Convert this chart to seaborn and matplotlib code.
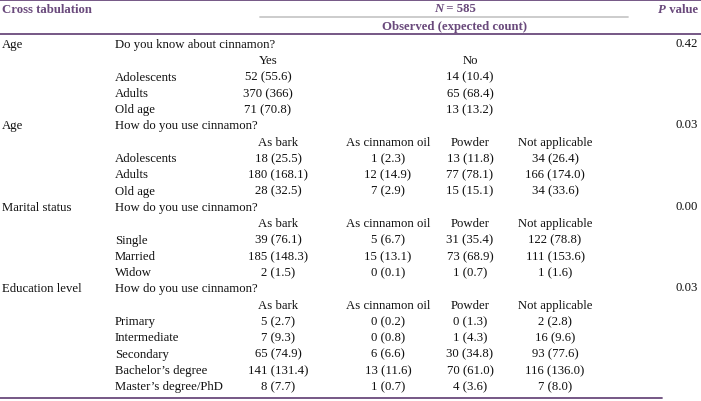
import matplotlib
matplotlib.use('Agg')
import matplotlib.pyplot as plt
import seaborn as sns

# table content
group_names = ['Age', 'Age', 'Marital status', 'Education level']
questions = ['Do you know about cinnamon?', 'How do you use cinnamon?',
             'How do you use cinnamon?', 'How do you use cinnamon?']
p_values = ['0.42', '0.03', '0.00', '0.03']

know_cols = ['Yes', 'No']
use_cols = ['As bark', 'As cinnamon oil', 'Powder', 'Not applicable']

age_rows = ['Adolescents', 'Adults', 'Old age']
marital_rows = ['Single', 'Married', 'Widow']
education_rows = ['Primary', 'Intermediate', 'Secondary', "Bachelor’s degree", "Master’s degree/PhD"]

age_know_obs = [[52, 14], [370, 65], [71, 13]]
age_know_exp = [['55.6', '10.4'], ['366', '68.4'], ['70.8', '13.2']]

age_use_obs = [[18, 1, 13, 34], [180, 12, 77, 166], [28, 7, 15, 34]]
age_use_exp = [['25.5', '2.3', '11.8', '26.4'], ['168.1', '14.9', '78.1', '174.0'],
               ['32.5', '2.9', '15.1', '33.6']]

marital_obs = [[39, 5, 31, 122], [185, 15, 73, 111], [2, 0, 1, 1]]
marital_exp = [['76.1', '6.7', '35.4', '78.8'], ['148.3', '13.1', '68.9', '153.6'],
               ['1.5', '0.1', '0.7', '1.6']]

education_obs = [[5, 0, 0, 2], [7, 0, 1, 16], [65, 6, 30, 93], [141, 13, 70, 116], [8, 1, 4, 7]]
education_exp = [['2.7', '0.2', '1.3', '2.8'], ['9.3', '0.8', '4.3', '9.6'],
                 ['74.9', '6.6', '34.8', '77.6'], ['131.4', '11.6', '61.0', '136.0'],
                 ['7.7', '0.7', '3.6', '8.0']]

groups = [
    (know_cols, age_rows, age_know_obs, age_know_exp),
    (use_cols, age_rows, age_use_obs, age_use_exp),
    (use_cols, marital_rows, marital_obs, marital_exp),
    (use_cols, education_rows, education_obs, education_exp),
]

sns.set_theme(style='white')
plt.rcParams['font.family'] = ['Liberation Serif', 'DejaVu Serif']

purple = '#6a4a7c'
fs = 9.2

fig = plt.figure(figsize=(7.01, 4.02), dpi=100)
ax = fig.add_axes([0, 0, 1, 1])
ax.set_xlim(0, 701)
ax.set_ylim(402, 0)
ax.axis('off')

# layout
x_group = 2
x_label = 115
x_pval = 698
col_x = {2: [268, 470], 4: [278, 388, 470, 555]}
y0 = 45
pitch = 16.3

# header
ax.axhline(1, color=purple, lw=1.3)
ax.axhline(35, color=purple, lw=1.3)
ax.plot([260, 628], [18, 18], color='#c8c8c8', lw=1.3)
hdr = dict(color=purple, fontsize=fs, fontweight='bold', va='center')
ax.text(x_group, 10, 'Cross tabulation', ha='left', **hdr)
t = ax.text(443, 9, 'N', ha='right', style='italic', **hdr)
ax.annotate(' = 585', xy=(1, 0), xycoords=t, ha='left', va='bottom',
            color=purple, fontsize=fs, fontweight='bold')
t = ax.text(x_pval, 10, ' value', ha='right', **hdr)
ax.annotate('P', xy=(0, 0), xycoords=t, ha='right', va='bottom',
            color=purple, fontsize=fs, fontweight='bold', style='italic')
ax.text(455, 27, 'Observed (expected count)', ha='center', **hdr)

# body
body = dict(color='#111111', fontsize=fs, va='center')
row = 0
for name, question, pv, (cols, rows, obs, exp) in zip(group_names, questions, p_values, groups):
    y = y0 + row * pitch
    ax.text(x_group, y, name, ha='left', **body)
    ax.text(x_label, y, question, ha='left', **body)
    ax.text(x_pval, y - 1, pv, ha='right', **body)
    row += 1
    y = y0 + row * pitch
    xs = col_x[len(cols)]
    for cx, c in zip(xs, cols):
        ax.text(cx, y, c, ha='center', **body)
    row += 1
    for r, o_row, e_row in zip(rows, obs, exp):
        y = y0 + row * pitch
        ax.text(x_label, y, r, ha='left', **body)
        for cx, o, e in zip(xs, o_row, e_row):
            ax.text(cx, y, f'{o} ({e})', ha='center', **body)
        row += 1

ax.plot([0, 662], [399, 399], color=purple, lw=1.3)

fig.savefig('out.png', dpi=100)
